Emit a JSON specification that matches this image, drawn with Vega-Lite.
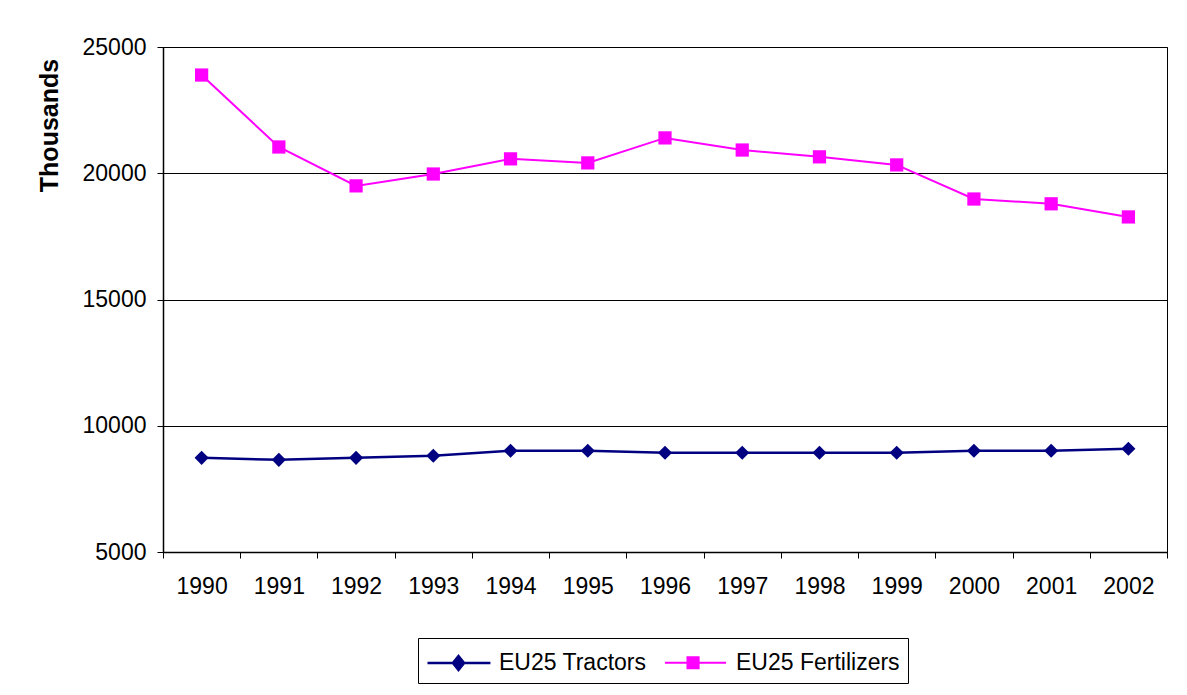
{
  "$schema": "https://vega.github.io/schema/vega-lite/v6.json",
  "autosize": "none",
  "width": 1004,
  "height": 505,
  "padding": {"left": 163, "top": 47, "right": 20, "bottom": 143},
  "background": "white",
  "config": {
    "font": "Liberation Sans",
    "view": {"stroke": "#000000", "strokeWidth": 1},
    "axis": {"labelColor": "#000000", "titleColor": "#000000", "domainColor": "#000000", "tickColor": "#000000", "labelFont": "Liberation Sans", "titleFont": "Liberation Sans"}
  },
  "data": {
    "values": [
      {"year": "1990", "series": "EU25 Tractors", "value": 8730},
      {"year": "1991", "series": "EU25 Tractors", "value": 8650},
      {"year": "1992", "series": "EU25 Tractors", "value": 8730},
      {"year": "1993", "series": "EU25 Tractors", "value": 8810},
      {"year": "1994", "series": "EU25 Tractors", "value": 9010},
      {"year": "1995", "series": "EU25 Tractors", "value": 9010},
      {"year": "1996", "series": "EU25 Tractors", "value": 8930},
      {"year": "1997", "series": "EU25 Tractors", "value": 8930},
      {"year": "1998", "series": "EU25 Tractors", "value": 8930},
      {"year": "1999", "series": "EU25 Tractors", "value": 8930},
      {"year": "2000", "series": "EU25 Tractors", "value": 9010},
      {"year": "2001", "series": "EU25 Tractors", "value": 9010},
      {"year": "2002", "series": "EU25 Tractors", "value": 9090},
      {"year": "1990", "series": "EU25 Fertilizers", "value": 23890},
      {"year": "1991", "series": "EU25 Fertilizers", "value": 21040},
      {"year": "1992", "series": "EU25 Fertilizers", "value": 19500},
      {"year": "1993", "series": "EU25 Fertilizers", "value": 19970},
      {"year": "1994", "series": "EU25 Fertilizers", "value": 20570},
      {"year": "1995", "series": "EU25 Fertilizers", "value": 20410},
      {"year": "1996", "series": "EU25 Fertilizers", "value": 21400},
      {"year": "1997", "series": "EU25 Fertilizers", "value": 20920},
      {"year": "1998", "series": "EU25 Fertilizers", "value": 20650},
      {"year": "1999", "series": "EU25 Fertilizers", "value": 20330},
      {"year": "2000", "series": "EU25 Fertilizers", "value": 18980},
      {"year": "2001", "series": "EU25 Fertilizers", "value": 18790},
      {"year": "2002", "series": "EU25 Fertilizers", "value": 18270}
    ]
  },
  "encoding": {
    "x": {
      "field": "year",
      "type": "ordinal",
      "bandPosition": 0.5,
      "scale": {"type": "band", "paddingInner": 0, "paddingOuter": 0},
      "axis": {
        "title": null,
        "labelAngle": 0,
        "labelFontSize": 23,
        "labelPadding": 17,
        "tickBand": "extent",
        "tickSize": 6,
        "grid": false,
        "domainWidth": 1.5
      }
    },
    "y": {
      "field": "value",
      "type": "quantitative",
      "scale": {"domain": [5000, 25000], "nice": false, "zero": false},
      "axis": {
        "values": [5000, 10000, 15000, 20000, 25000],
        "format": "d",
        "grid": true,
        "gridColor": "#000000",
        "gridWidth": 1,
        "gridOpacity": 1,
        "tickSize": 6,
        "labelFontSize": 23,
        "labelPadding": 11,
        "domainWidth": 1.5,
        "title": "Thousands",
        "titleFontSize": 25,
        "titleFontWeight": "bold",
        "titleAngle": -90,
        "titleAlign": "center",
        "titleBaseline": "alphabetic",
        "titleX": -106,
        "titleY": 78
      }
    },
    "color": {
      "field": "series",
      "type": "nominal",
      "scale": {"domain": ["EU25 Tractors", "EU25 Fertilizers"], "range": ["#000080", "#FF00FF"]},
      "legend": {
        "title": null,
        "orient": "none",
        "legendX": 255,
        "legendY": 591,
        "direction": "horizontal",
        "strokeColor": "#000000",
        "fillColor": "#ffffff",
        "padding": 8,
        "columnPadding": 14,
        "labelFontSize": 23,
        "labelColor": "#000000",
        "labelOffset": 39,
        "labelLimit": 0,
        "labelBaseline": "middle",
        "symbolSize": 961,
        "symbolStrokeWidth": 2,
        "symbolOpacity": 1,
        "symbolType": {"expr": "datum.value === 'EU25 Tractors' ? 'M-1,0H3.06M1,-0.45L1.36,0L1,0.45L0.64,0Z' : 'M-1,0H2.94M0.45,-0.36H1.17V0.36H0.45Z'"}
      }
    }
  },
  "layer": [
    {
      "mark": {"type": "line", "interpolate": "linear"},
      "encoding": {
        "strokeWidth": {
          "field": "series",
          "type": "nominal",
          "scale": {"domain": ["EU25 Tractors", "EU25 Fertilizers"], "range": [2.5, 2]},
          "legend": null
        }
      }
    },
    {
      "transform": [{"filter": "datum.series === 'EU25 Tractors'"}],
      "mark": {"type": "point", "filled": true, "opacity": 1, "shape": "diamond", "size": 200}
    },
    {
      "transform": [{"filter": "datum.series === 'EU25 Fertilizers'"}],
      "mark": {"type": "point", "filled": true, "opacity": 1, "shape": "square", "size": 175}
    }
  ]
}
